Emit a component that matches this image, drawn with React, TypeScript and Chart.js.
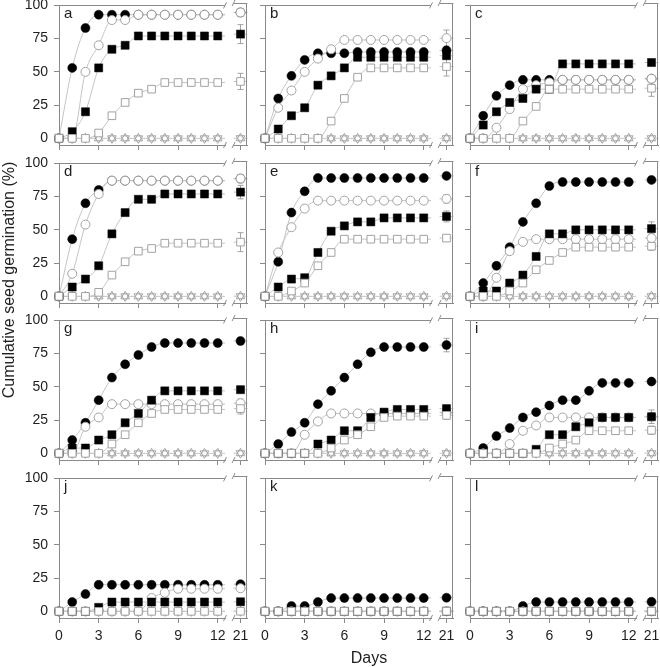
import React, { useEffect, useRef } from 'react';
import { Chart, registerables } from 'chart.js';
Chart.register(...registerables);

// ---------- data ----------
const days = [0, 1, 2, 3, 4, 5, 6, 7, 8, 9, 10, 11, 12, 21];
const mainTicks = [0, 3, 6, 9, 12];
const lateTicks = [21];
const yTicks = [0, 25, 50, 75, 100];

const flat0 = [0, 0, 0, 0, 0, 0, 0, 0, 0, 0, 0, 0, 0, 0];
const noErr = [0, 0, 0, 0, 0];

// a
const fcA = [0, 53, 83, 93, 93, 93, 93, 93, 93, 93, 93, 93, 93, 93];
const ocA = [0, 0, 50, 70, 89, 89, 93, 93, 93, 93, 93, 93, 93, 93];
const fsA = [0, 5, 20, 53, 67, 70, 77, 77, 77, 77, 77, 77, 77, 77];
const osA = [0, 0, 0, 4, 17, 27, 34, 37, 42, 42, 42, 42, 42, 42];
const errA = [0, 3, 7, 6, 0];
// b
const fcB = [0, 30, 47, 59, 64, 64, 64, 65, 65, 65, 65, 65, 65, 65];
const ocB = [0, 23, 36, 50, 60, 67, 74, 74, 74, 74, 74, 74, 74, 74];
const fsB = [0, 7, 17, 23, 40, 47, 53, 61, 61, 61, 61, 61, 61, 61];
const osB = [0, 0, 0, 0, 0, 13, 30, 46, 53, 53, 53, 53, 53, 53];
const errB = [0, 6, 2, 7, 0];
// c
const fcC = [0, 17, 32, 40, 44, 44, 44, 44, 44, 44, 44, 44, 44, 44];
const ocC = [0, 0, 8, 22, 37, 40, 42, 44, 44, 44, 44, 44, 44, 44];
const fsC = [0, 10, 20, 27, 30, 37, 37, 56, 56, 56, 56, 56, 56, 56];
const osC = [0, 0, 0, 0, 13, 24, 37, 37, 37, 37, 37, 37, 37, 37];
const errC = [0, 2, 0, 6, 0];
// d
const fcD = [0, 43, 70, 80, 87, 87, 87, 87, 87, 87, 87, 87, 87, 87];
const ocD = [0, 17, 54, 77, 87, 87, 87, 87, 87, 87, 87, 87, 87, 87];
const fsD = [0, 7, 13, 23, 47, 63, 73, 73, 77, 77, 77, 77, 77, 77];
const osD = [0, 0, 0, 3, 16, 26, 34, 36, 40, 40, 40, 40, 40, 40];
const errD = [0, 3, 5, 7, 0];
// e
const fcE = [0, 26, 63, 79, 89, 89, 89, 89, 89, 89, 89, 89, 89, 89];
const ocE = [0, 33, 52, 66, 72, 72, 72, 72, 72, 72, 72, 72, 72, 72];
const fsE = [0, 7, 13, 14, 33, 49, 53, 56, 56, 59, 59, 59, 59, 59];
const osE = [0, 0, 4, 10, 23, 33, 43, 43, 43, 43, 43, 43, 43, 43];
const errE = [0, 3, 4, 2, 0];
// f
const fcF = [0, 10, 23, 37, 56, 70, 83, 86, 86, 86, 86, 86, 86, 86];
const ocF = [0, 0, 14, 34, 41, 43, 43, 43, 43, 43, 43, 43, 43, 43];
const fsF = [0, 4, 4, 10, 16, 30, 47, 47, 50, 50, 50, 50, 50, 50];
const osF = [0, 0, 0, 4, 10, 20, 27, 33, 37, 37, 37, 37, 37, 37];
const errF = [0, 3, 5, 3, 0];
// g
const fcG = [0, 10, 23, 40, 57, 67, 74, 80, 83, 83, 83, 83, 83, 83];
const ocG = [0, 0, 20, 27, 37, 37, 37, 37, 37, 37, 37, 37, 37, 37];
const fsG = [0, 4, 4, 10, 14, 23, 30, 40, 47, 47, 47, 47, 47, 47];
const osG = [0, 0, 0, 0, 7, 14, 23, 30, 33, 33, 33, 33, 33, 33];
const errG = [0, 3, 2, 4, 0];
// h
const fcH = [0, 7, 16, 23, 37, 47, 57, 67, 76, 80, 80, 80, 80, 80];
const ocH = [0, 0, 0, 14, 24, 30, 30, 30, 30, 30, 30, 30, 30, 30];
const fsH = [0, 0, 0, 0, 7, 10, 17, 17, 27, 31, 33, 33, 33, 33];
const osH = [0, 0, 0, 0, 0, 4, 10, 14, 20, 27, 28, 28, 28, 28];
const errH = [5, 0, 2, 3, 0];
// i
const fcI = [0, 4, 13, 19, 27, 31, 36, 40, 40, 47, 53, 53, 53, 53];
const ocI = [0, 0, 0, 7, 17, 21, 27, 27, 27, 27, 27, 27, 27, 27];
const fsI = [0, 0, 0, 0, 0, 3, 14, 14, 20, 23, 27, 27, 27, 27];
const osI = [0, 0, 0, 0, 0, 0, 4, 7, 10, 17, 17, 17, 17, 17];
const errI = [0, 0, 5, 3, 0];
// j
const fcJ = [0, 7, 13, 20, 20, 20, 20, 20, 20, 20, 20, 20, 20, 20];
const ocJ = [0, 0, 0, 0, 0, 0, 0, 10, 14, 17, 17, 17, 17, 17];
const fsJ = [0, 0, 0, 3, 7, 7, 7, 7, 7, 7, 7, 7, 7, 7];
// k
const fcK = [0, 0, 4, 4, 7, 10, 10, 10, 10, 10, 10, 10, 10, 10];
// l
const fcL = [0, 0, 0, 0, 4, 7, 7, 7, 7, 7, 7, 7, 7, 7];

type Panel = { label: string; fc: number[]; oc: number[]; fs: number[]; os: number[]; tr: number[]; err: number[] };

const panels: Panel[] = [
  { label: 'a', fc: fcA, oc: ocA, fs: fsA, os: osA, tr: flat0, err: errA },
  { label: 'b', fc: fcB, oc: ocB, fs: fsB, os: osB, tr: flat0, err: errB },
  { label: 'c', fc: fcC, oc: ocC, fs: fsC, os: osC, tr: flat0, err: errC },
  { label: 'd', fc: fcD, oc: ocD, fs: fsD, os: osD, tr: flat0, err: errD },
  { label: 'e', fc: fcE, oc: ocE, fs: fsE, os: osE, tr: flat0, err: errE },
  { label: 'f', fc: fcF, oc: ocF, fs: fsF, os: osF, tr: flat0, err: errF },
  { label: 'g', fc: fcG, oc: ocG, fs: fsG, os: osG, tr: flat0, err: errG },
  { label: 'h', fc: fcH, oc: ocH, fs: fsH, os: osH, tr: flat0, err: errH },
  { label: 'i', fc: fcI, oc: ocI, fs: fsI, os: osI, tr: flat0, err: errI },
  { label: 'j', fc: fcJ, oc: ocJ, fs: fsJ, os: flat0, tr: flat0, err: noErr },
  { label: 'k', fc: fcK, oc: flat0, fs: flat0, os: flat0, tr: flat0, err: noErr },
  { label: 'l', fc: fcL, oc: flat0, fs: flat0, os: flat0, tr: flat0, err: noErr },
];

// ---------- layout / style ----------
const FONT = "'Liberation Sans', Arial, Helvetica, sans-serif";
const COL_LEFT = [59, 265, 470];
const ROW_TOP = [3, 161, 318, 476];
const PLOT_W = 166;
const MAIN_MAX = 12.55;
const PLOT_H = 142;
const Y_MIN = -5;
const Y_MAX = 100;
const LATE_OFF = 174;
const LATE_W = 15;
const AXIS_W = 45;
const PAD_TOP = 12;
const PAD_R = 12;
const AXIS_H = 34;
const LATE_PAD = 10;
const MAIN_CW = AXIS_W + PLOT_W + PAD_R;
const LATE_CW = LATE_PAD * 2 + LATE_W;
const CH = PAD_TOP + PLOT_H + AXIS_H;

const AXIS_C = '#8a8a8a';
const LINE_C = '#c4c4c4';
const MARK_C = '#a2a2a2';
const TEXT_C = '#1e1e1e';

const markerDefs = [
  { key: 'tr', style: 'triangle', rot: 0, r: 5, bg: '#ffffff', bc: MARK_C, bw: 1, order: 16 },
  { key: 'tr', style: 'triangle', rot: 180, r: 5, bg: 'rgba(255,255,255,0)', bc: MARK_C, bw: 1, order: 15 },
  { key: 'fc', style: 'circle', rot: 0, r: 4.5, bg: '#000000', bc: '#000000', bw: 0.5, order: 14 },
  { key: 'oc', style: 'circle', rot: 0, r: 4.5, bg: '#ffffff', bc: MARK_C, bw: 1, order: 13 },
  { key: 'fs', style: 'rect', rot: 0, r: 5.7, bg: '#000000', bc: '#000000', bw: 0.5, order: 12 },
  { key: 'os', style: 'rect', rot: 0, r: 5.4, bg: '#ffffff', bc: MARK_C, bw: 1, order: 11 },
];
const lineKeys = ['tr', 'fc', 'oc', 'fs', 'os'];
const errKeys = ['fc', 'oc', 'fs', 'os', 'tr'];

function decorPlugin(kind: 'main' | 'late', panel: Panel) {
  return {
    id: 'decor',
    beforeDatasetsDraw(chart: any) {
      const { ctx, chartArea: a, scales } = chart;
      const xs = scales.x;
      const ys = scales.y;
      const seg = (x1: number, y1: number, x2: number, y2: number) => {
        ctx.beginPath();
        ctx.moveTo(x1, y1);
        ctx.lineTo(x2, y2);
        ctx.stroke();
      };
      ctx.save();
      ctx.lineWidth = 1;
      ctx.strokeStyle = LINE_C;
      if (kind === 'main') {
        const i12 = days.indexOf(12);
        lineKeys.forEach((k) => {
          const y = ys.getPixelForValue((panel as any)[k][i12]);
          seg(xs.getPixelForValue(12), y, a.right, y);
        });
      } else {
        const i21 = days.indexOf(21);
        lineKeys.forEach((k) => {
          const y = ys.getPixelForValue((panel as any)[k][i21]);
          seg(a.left, y, a.right, y);
        });
        ctx.strokeStyle = MARK_C;
        const x = xs.getPixelForValue(21);
        errKeys.forEach((k, j) => {
          const e = panel.err[j];
          if (!e) return;
          const v = (panel as any)[k][i21];
          const y1 = ys.getPixelForValue(v - e);
          const y2 = ys.getPixelForValue(v + e);
          seg(x, y1, x, y2);
          seg(x - 3, y1, x + 3, y1);
          seg(x - 3, y2, x + 3, y2);
        });
      }
      ctx.strokeStyle = AXIS_C;
      const top = Math.round(a.top) + 0.5;
      seg(a.left, top, a.right, top);
      if (kind === 'late') {
        const rx = Math.round(a.right) - 0.5;
        seg(rx, a.top, rx, a.bottom);
      }
      const bx = kind === 'main' ? a.right : a.left;
      [a.top, a.bottom].forEach((y: number) => seg(bx - 1.5, y + 3, bx + 1.5, y - 3));
      ctx.restore();
    },
  };
}

function buildConfig(panel: Panel, kind: 'main' | 'late', showY: boolean, showX: boolean): any {
  const isMain = kind === 'main';
  const idx = days.map((_, i) => i).filter((i) => (isMain ? days[i] <= 12 : days[i] > 12));
  const pts = (arr: number[]) => idx.map((i) => ({ x: days[i], y: arr[i] }));
  const datasets: any[] = [];
  if (isMain) {
    lineKeys.forEach((k) => {
      datasets.push({
        data: pts((panel as any)[k]),
        borderColor: LINE_C,
        borderWidth: 1,
        pointRadius: 0,
        fill: false,
        cubicInterpolationMode: 'monotone',
        order: 20,
        clip: false,
      });
    });
  }
  markerDefs.forEach((m) => {
    datasets.push({
      data: pts((panel as any)[m.key]),
      showLine: false,
      pointStyle: m.style,
      pointRotation: m.rot,
      pointRadius: m.r,
      pointBackgroundColor: m.bg,
      pointBorderColor: m.bc,
      pointBorderWidth: m.bw,
      order: m.order,
      clip: false,
    });
  });
  const tickFont = { family: FONT, size: 14 };
  return {
    type: 'line',
    data: { datasets },
    plugins: [decorPlugin(kind, panel)],
    options: {
      responsive: false,
      animation: false,
      events: [],
      devicePixelRatio: 1,
      layout: {
        padding: isMain
          ? { top: PAD_TOP, right: PAD_R, left: 0, bottom: 0 }
          : { top: PAD_TOP, right: LATE_PAD, left: LATE_PAD, bottom: 0 },
      },
      plugins: { legend: { display: false }, tooltip: { enabled: false }, title: { display: false } },
      scales: {
        x: {
          type: 'linear',
          min: isMain ? 0 : 20.5,
          max: isMain ? MAIN_MAX : 21.5,
          afterBuildTicks: (s: any) => {
            s.ticks = (isMain ? mainTicks : lateTicks).map((v) => ({ value: v }));
          },
          afterFit: (s: any) => {
            s.height = AXIS_H;
          },
          border: { display: true, color: AXIS_C, width: 1 },
          grid: { drawOnChartArea: false, drawTicks: true, tickLength: 5, color: AXIS_C },
          ticks: {
            font: tickFont,
            color: showX ? TEXT_C : 'rgba(0,0,0,0)',
            padding: 5,
            maxRotation: 0,
            autoSkip: false,
          },
        },
        y: {
          type: 'linear',
          display: isMain,
          min: Y_MIN,
          max: Y_MAX,
          afterBuildTicks: (s: any) => {
            s.ticks = yTicks.map((v) => ({ value: v }));
          },
          afterFit: (s: any) => {
            s.width = isMain ? AXIS_W : 0;
          },
          border: { display: true, color: AXIS_C, width: 1 },
          grid: { drawOnChartArea: false, drawTicks: true, tickLength: 5, color: AXIS_C },
          ticks: {
            font: tickFont,
            color: showY ? TEXT_C : 'rgba(0,0,0,0)',
            padding: 6,
            autoSkip: false,
          },
        },
      },
    },
  };
}

function PanelCharts({ panel, col, row }: { panel: Panel; col: number; row: number }) {
  const mainRef = useRef<HTMLCanvasElement>(null);
  const lateRef = useRef<HTMLCanvasElement>(null);
  useEffect(() => {
    const showY = col === 0;
    const showX = row === 3;
    const c1 = new Chart(mainRef.current as HTMLCanvasElement, buildConfig(panel, 'main', showY, showX));
    const c2 = new Chart(lateRef.current as HTMLCanvasElement, buildConfig(panel, 'late', showY, showX));
    return () => {
      c1.destroy();
      c2.destroy();
    };
  }, [panel, col, row]);
  const L = COL_LEFT[col];
  const T = ROW_TOP[row];
  return (
    <>
      <canvas
        ref={mainRef}
        width={MAIN_CW}
        height={CH}
        style={{ position: 'absolute', left: L - AXIS_W, top: T - PAD_TOP, width: MAIN_CW, height: CH }}
      />
      <canvas
        ref={lateRef}
        width={LATE_CW}
        height={CH}
        style={{ position: 'absolute', left: L + LATE_OFF - LATE_PAD, top: T - PAD_TOP, width: LATE_CW, height: CH }}
      />
      <div
        style={{
          position: 'absolute',
          left: L + 5,
          top: T + 2,
          fontFamily: FONT,
          fontSize: 15,
          lineHeight: '15px',
          color: TEXT_C,
        }}
      >
        {panel.label}
      </div>
    </>
  );
}

export default function App() {
  return (
    <div style={{ position: 'absolute', left: 0, top: 0, width: 660, height: 667, background: '#ffffff', overflow: 'hidden' }}>
      {panels.map((p, i) => (
        <PanelCharts key={p.label} panel={p} col={i % 3} row={Math.floor(i / 3)} />
      ))}
      <div
        style={{
          position: 'absolute',
          left: 9 - 160,
          top: 280 - 10,
          width: 320,
          height: 20,
          lineHeight: '20px',
          textAlign: 'center',
          transform: 'rotate(-90deg)',
          fontFamily: FONT,
          fontSize: 16,
          color: TEXT_C,
          whiteSpace: 'nowrap',
        }}
      >
        Cumulative seed germination (%)
      </div>
      <div
        style={{
          position: 'absolute',
          left: 369 - 50,
          top: 649,
          width: 100,
          lineHeight: '18px',
          textAlign: 'center',
          fontFamily: FONT,
          fontSize: 16,
          color: TEXT_C,
        }}
      >
        Days
      </div>
    </div>
  );
}
